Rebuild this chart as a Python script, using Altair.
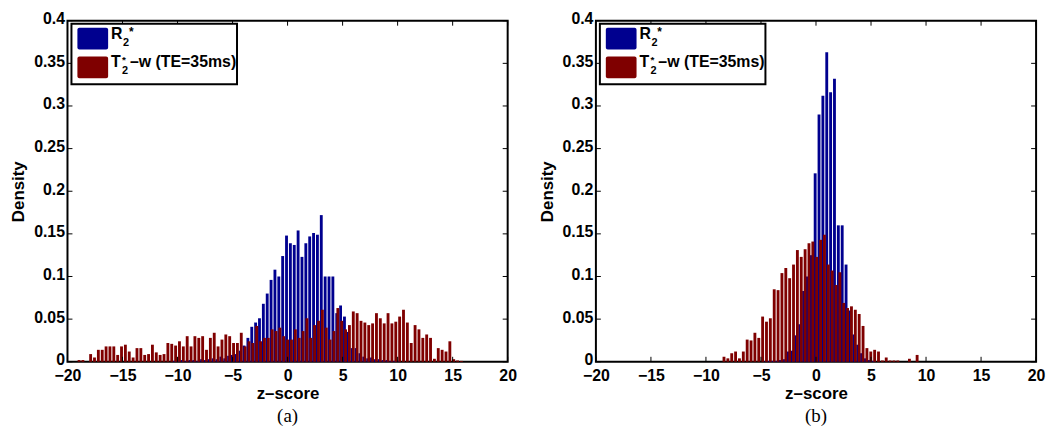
import altair as alt
import numpy as np
import pandas as pd

# ---------------- data ----------------
BIN_WIDTH = 0.351          # width of one histogram bin (z-score units)

# panel (a)
A_R2_START = -19.05        # centre of the first R2* bin
A_R2 = [
    0, 0, 0, 0, 0, 0, 0, 0, 0, 0,
    0, 0, 0, 0, 0, 0, 0, 0, 0, 0,
    0, 0, 0, 0, 0, 0.001, 0.001, 0.002, 0.001, 0.002,
    0.002, 0.001, 0.003, 0.002, 0.003, 0.004, 0.003, 0.006, 0.004, 0.007,
    0.008, 0.009, 0.013, 0.019, 0.028, 0.041, 0.046, 0.051, 0.068, 0.080,
    0.096, 0.108, 0.100, 0.124, 0.148, 0.139, 0.137, 0.154, 0.123, 0.139,
    0.147, 0.151, 0.149, 0.172, 0.100, 0.100, 0.100, 0.057, 0.066, 0.053,
    0.035, 0.016, 0.016, 0.010, 0.006, 0.004, 0.005, 0.003, 0.003, 0.002,
    0.002, 0.001, 0.001, 0.001, 0, 0, 0, 0, 0, 0,
    0, 0, 0, 0, 0, 0, 0, 0, 0, 0,
]
A_T2W_START = -18.95       # centre of the first T2*-w bin
A_T2W = [
    0.002, 0.002, 0.0, 0.009, 0.005, 0.014, 0.014, 0.018, 0.018, 0.018,
    0.008, 0.018, 0.020, 0.012, 0.005, 0.016, 0.016, 0.008, 0.009, 0.020,
    0.011, 0.008, 0.009, 0.022, 0.021, 0.019, 0.024, 0.018, 0.030, 0.018,
    0.030, 0.028, 0.030, 0.014, 0.028, 0.034, 0.018, 0.026, 0.032, 0.030,
    0.022, 0.022, 0.034, 0.018, 0.024, 0.022, 0.042, 0.024, 0.028, 0.028,
    0.038, 0.036, 0.040, 0.030, 0.026, 0.026, 0.038, 0.028, 0.036, 0.051,
    0.028, 0.043, 0.048, 0.061, 0.040, 0.026, 0.036, 0.063, 0.048, 0.038,
    0.043, 0.059, 0.057, 0.048, 0.046, 0.043, 0.045, 0.057, 0.051, 0.045,
    0.057, 0.045, 0.047, 0.053, 0.061, 0.046, 0.022, 0.043, 0.038, 0.028,
    0.032, 0.028, 0.0035, 0.016, 0.014, 0.012, 0.024, 0.003, 0.0015, 0.001,
]

# panel (b)
B_R2_START = -19.03
B_R2 = [
    0, 0, 0, 0, 0, 0, 0, 0, 0, 0,
    0, 0, 0, 0, 0, 0, 0, 0, 0, 0,
    0, 0, 0, 0, 0, 0, 0, 0, 0, 0,
    0, 0, 0, 0, 0, 0, 0, 0, 0, 0,
    0, 0.0005, 0.001, 0.001, 0.001, 0.002, 0.003, 0.012, 0.013, 0.031,
    0.044, 0.083, 0.100, 0.125, 0.221, 0.290, 0.312, 0.363, 0.316, 0.332,
    0.160, 0.160, 0.114, 0.060, 0.032, 0.020, 0.010, 0.004, 0.002, 0.001,
    0, 0, 0, 0, 0, 0, 0, 0, 0, 0,
    0, 0, 0, 0, 0, 0, 0, 0, 0, 0,
    0, 0, 0, 0, 0, 0, 0, 0, 0, 0,
]
B_T2W_START = -18.89
B_T2W = [
    0, 0, 0, 0, 0, 0, 0, 0, 0, 0,
    0, 0, 0, 0, 0, 0, 0, 0, 0, 0,
    0, 0, 0, 0, 0, 0, 0, 0, 0, 0,
    0.006, 0.004, 0.010, 0.012, 0.004, 0.012, 0.026, 0.025, 0.034, 0.028,
    0.053, 0.047, 0.051, 0.085, 0.084, 0.104, 0.110, 0.098, 0.114, 0.131,
    0.123, 0.132, 0.139, 0.141, 0.123, 0.143, 0.149, 0.114, 0.107, 0.090,
    0.105, 0.069, 0.063, 0.065, 0.061, 0.056, 0.042, 0.016, 0.012, 0.014,
    0.012, 0.0015, 0.005, 0.0015, 0.0015, 0.0015, 0, 0, 0.0035, 0,
    0.008, 0, 0, 0, 0, 0, 0, 0, 0, 0,
    0, 0, 0, 0, 0, 0, 0, 0, 0, 0,
]

X_TICKS = [-20, -15, -10, -5, 0, 5, 10, 15, 20]
Y_TICKS = [0, 0.05, 0.1, 0.15, 0.2, 0.25, 0.3, 0.35, 0.4]
CAPTIONS = ["(a)", "(b)"]
X_TITLE = "z–score"
Y_TITLE = "Density"

# ---------------- style ----------------
BLUE = "#00008F"
RED = "#7F0000"
FONT = "Liberation Sans"
SERIF = "Liberation Serif"
W = 444
H = 344
BAR_FRAC = 0.74


def series_frame(start, values):
    c = start + BIN_WIDTH * np.arange(len(values))
    return pd.DataFrame({
        "lo": c - BAR_FRAC * BIN_WIDTH / 2,
        "hi": c + BAR_FRAC * BIN_WIDTH / 2,
        "density": values,
    })


XS = alt.Scale(domain=[-20, 20], nice=False, zero=False)
YS = alt.Scale(domain=[0, 0.4], nice=False, zero=True)
XAXIS = alt.Axis(values=X_TICKS, ticks=False, tickSize=0, domain=False, grid=False,
                 labelFont=FONT, labelFontSize=16, labelFontWeight="bold",
                 labelColor="black", labelPadding=6, labelOverlap=False,
                 labelFlush=False,
                 title=X_TITLE, titleFont=FONT, titleFontSize=17,
                 titleFontWeight="bold", titleColor="black", titlePadding=2)
YAXIS = alt.Axis(values=Y_TICKS, ticks=False, tickSize=0, domain=False, grid=False,
                 labelFont=FONT, labelFontSize=16, labelFontWeight="bold",
                 labelColor="black", labelPadding=3, labelOverlap=False,
                 labelFlush=False, labelOffset=-2,
                 labelExpr="format(datum.value, '~g')",
                 title=Y_TITLE, titleFont=FONT, titleFontSize=17,
                 titleFontWeight="bold", titleColor="black", titlePadding=6)

ONE = pd.DataFrame({"k": [0]})


def txt(s, x, y, size, color="black", font=FONT, weight="bold", align="left"):
    return alt.Chart(ONE).mark_text(text=s, font=font, fontSize=size, fontWeight=weight,
                                    color=color, align=align, baseline="alphabetic").encode(
        x=alt.value(x), y=alt.value(y))


def bars(start, vals, color):
    return alt.Chart(series_frame(start, vals)).mark_rect(color=color).encode(
        x=alt.X("lo:Q", scale=XS, axis=XAXIS), x2="hi:Q",
        y=alt.Y("density:Q", scale=YS, axis=YAXIS), y2=alt.datum(0))


def panel(r2_start, r2_vals, t2_start, t2_vals, caption):
    blue = bars(r2_start, r2_vals, BLUE)
    red = bars(t2_start, t2_vals, RED)

    xt = pd.DataFrame({"t": X_TICKS})
    yt = pd.DataFrame({"t": Y_TICKS})
    tick_b = alt.Chart(xt).mark_rule(color="black", strokeWidth=1).encode(
        x=alt.X("t:Q", scale=XS, axis=XAXIS), y=alt.value(H), y2=alt.value(H - 5))
    tick_t = alt.Chart(xt).mark_rule(color="black", strokeWidth=1).encode(
        x=alt.X("t:Q", scale=XS, axis=XAXIS), y=alt.value(0), y2=alt.value(5))
    tick_l = alt.Chart(yt).mark_rule(color="black", strokeWidth=1).encode(
        y=alt.Y("t:Q", scale=YS, axis=YAXIS), x=alt.value(0), x2=alt.value(5))
    tick_r = alt.Chart(yt).mark_rule(color="black", strokeWidth=1).encode(
        y=alt.Y("t:Q", scale=YS, axis=YAXIS), x=alt.value(W), x2=alt.value(W - 5))

    box = alt.Chart(ONE).mark_rect(fill="white", stroke="black", strokeWidth=2).encode(
        x=alt.value(4), x2=alt.value(171), y=alt.value(3), y2=alt.value(64))
    sw_b = alt.Chart(ONE).mark_rect(fill=BLUE, cornerRadius=2).encode(
        x=alt.value(10), x2=alt.value(41), y=alt.value(7), y2=alt.value(29))
    sw_r = alt.Chart(ONE).mark_rect(fill=RED, cornerRadius=2).encode(
        x=alt.value(10), x2=alt.value(41), y=alt.value(36), y2=alt.value(58))

    legend_text = [
        txt("R", 44, 18, 16),
        txt("2", 56, 25, 11),
        txt("*", 62, 15, 12),
        txt("T", 44, 47, 16),
        txt("2", 55, 54, 11),
        txt("*", 55, 43, 10),
        txt("–w (TE=35ms)", 63, 47, 16),
    ]
    cap = txt(caption, W / 2, H + 61, 19, font=SERIF, weight="normal", align="center")

    return alt.layer(blue, red, tick_b, tick_t, tick_l, tick_r, box, sw_b, sw_r,
                     *legend_text, cap).properties(width=W, height=H)


pa = panel(A_R2_START, A_R2, A_T2W_START, A_T2W, CAPTIONS[0])
pb = panel(B_R2_START, B_R2, B_T2W_START, B_T2W, CAPTIONS[1])

chart = alt.hconcat(pa, pb, spacing=89, bounds="flush").configure_view(
    stroke="black", strokeWidth=2
).properties(padding={"left": 0, "top": 0, "right": 0, "bottom": 0},
             background="white")

chart.save("out.html", embed_options={"renderer": "svg", "actions": False})
